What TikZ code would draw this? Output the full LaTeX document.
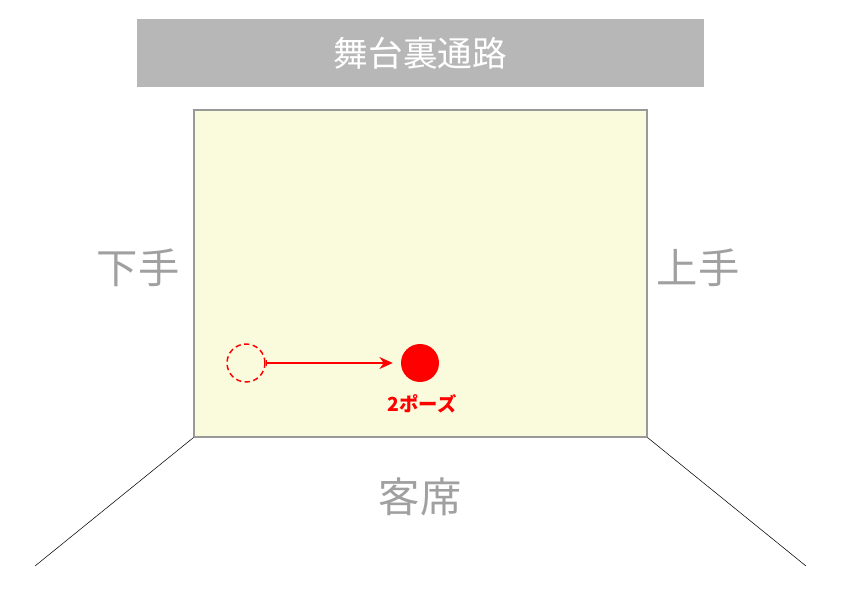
\documentclass[tikz,border=0pt]{standalone}
\usepackage{fontspec}
\newfontfamily\jpfont{Noto Sans CJK JP}
\usetikzlibrary{arrows.meta}
\definecolor{bargray}{HTML}{B7B7B8}
\definecolor{stagefill}{HTML}{FAFADC}
\definecolor{textgray}{HTML}{A0A0A0}
\begin{document}
\begin{tikzpicture}[x=0.75pt,y=-0.75pt,
  area/.style={text=textgray,font=\jpfont\fontsize{31}{31}\selectfont},
  spot/.style={shape=circle,minimum size=28.5pt,inner sep=0pt,red}]
\useasboundingbox (0,0) rectangle (842,595);
\node(backstage) at (420.5,53)[fill=bargray,minimum width=425pt,minimum height=51pt,text=white,font=\jpfont\fontsize{26}{26}\selectfont]{舞台裏通路};
\node(stage) at (420.5,273.5)[fill=stagefill,draw=gray!80,line width=0.9pt,minimum width=339.75pt,minimum height=245.25pt]{};
\node(left) at (138,268)[area]{下手};
\node(right) at (698,268)[area]{上手};
\node(audience) at (420,497)[area]{客席};
\coordinate(leftend) at (35,566);
\coordinate(rightend) at (806,566);
\node(start) at (246,363)[spot,draw,dash pattern=on 4pt off 2.6pt,line width=1.1pt]{};
\node(pose) at (420,363)[spot,fill]{};
\node(poselabel) at (422,404)[red,font=\jpfont\bfseries\fontsize{14.5}{14.5}\selectfont]{2ポーズ};
\path [-,line width=0.4pt]
  (stage.south west) edge (leftend)
  (stage.south east) edge (rightend);
\path [{Bar[width=5pt]}-{Stealth[length=10pt,width=9pt]},red,line width=1.1pt,shorten >=6pt]
  (start) edge (pose);
\end{tikzpicture}
\end{document}
